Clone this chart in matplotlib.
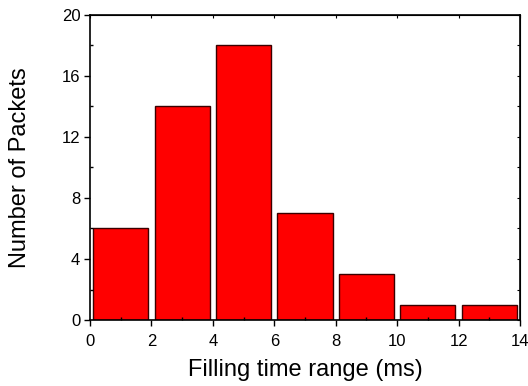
import matplotlib
matplotlib.use("Agg")
import matplotlib.pyplot as plt
from matplotlib.ticker import MultipleLocator

plt.rcParams['font.family'] = ['Liberation Sans', 'DejaVu Sans']

bin_centers = [1, 3, 5, 7, 9, 11, 13]
counts = [6, 14, 18, 7, 3, 1, 1]

fig = plt.figure(figsize=(5.28, 3.86), dpi=100)
ax = fig.add_axes([90/528, 1 - 320/386, 430/528, 305/386])

ax.bar(bin_centers, counts, width=1.8, color='#ff0000', edgecolor='#3a0000', linewidth=1.0)

ax.set_xlim(0, 14)
ax.set_ylim(0, 20)
ax.xaxis.set_major_locator(MultipleLocator(2))
ax.xaxis.set_minor_locator(MultipleLocator(1))
ax.yaxis.set_major_locator(MultipleLocator(4))
ax.yaxis.set_minor_locator(MultipleLocator(2))

ax.tick_params(which='major', direction='out', length=4, width=1, labelsize=12)
ax.tick_params(axis='x', which='major', pad=6)
ax.tick_params(axis='y', which='major', pad=3)
ax.tick_params(which='minor', direction='in', length=2, width=1)
ax.tick_params(which='both', top=False, right=False)

secx = ax.secondary_xaxis('top')
secx.xaxis.set_major_locator(MultipleLocator(2))
secx.tick_params(direction='in', length=2, labeltop=False)
secx.set_xticklabels([])
secy = ax.secondary_yaxis('right')
secy.yaxis.set_major_locator(MultipleLocator(2))
secy.tick_params(direction='in', length=2, labelright=False)
secy.set_yticklabels([])

for s in ax.spines.values():
    s.set_linewidth(1.2)

ax.set_xlabel('Filling time range (ms)', fontsize=17)
ax.set_ylabel('Number of Packets', fontsize=17)
ax.xaxis.set_label_coords(0.5, -(370 - 320) / 305, transform=ax.transAxes)
ax.yaxis.set_label_coords(-(90 - 20) / 430, 0.5, transform=ax.transAxes)
ax.xaxis.label.set_va('center')
ax.yaxis.label.set_va('center')

fig.savefig('out.png', dpi=100)
